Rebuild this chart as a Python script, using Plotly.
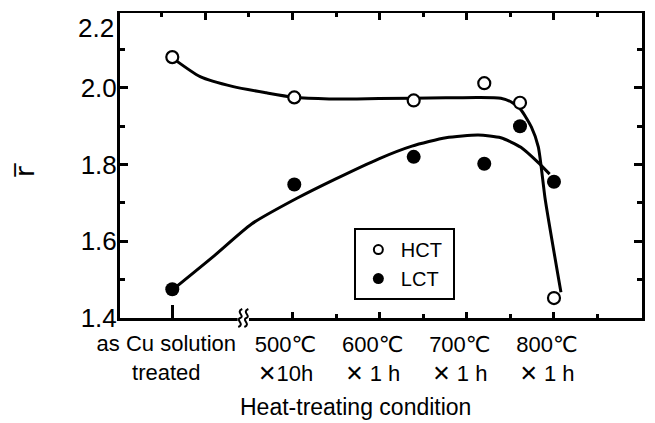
import plotly.graph_objects as go

# ---- data ----
# x positions on a temperature-like scale (°C); "as Cu solution treated" placed left of the break
cond_x = [362, 502, 639, 720, 761, 800]
hct_r = [2.08, 1.975, 1.967, 2.012, 1.961, 1.452]
lct_r = [1.475, 1.748, 1.820, 1.802, 1.900, 1.755]

# hand-drawn trend curves (knots)
hct_curve_x = [362, 394, 432, 470, 500, 542, 599, 676, 713, 739, 751, 762, 774, 782, 790, 808]
hct_curve_y = [2.078, 2.029, 2.003, 1.987, 1.976, 1.971, 1.972, 1.974, 1.975, 1.973, 1.963, 1.943, 1.898, 1.846, 1.708, 1.467]
lct_curve_x = [362, 410, 453, 505, 549, 599, 637, 676, 713, 739, 762, 782, 795]
lct_curve_y = [1.473, 1.562, 1.645, 1.712, 1.762, 1.815, 1.848, 1.870, 1.877, 1.870, 1.845, 1.805, 1.775]

asis_tick = [362]
asis_label = ["as Cu solution<br>treated"]
temp_ticks = [500, 600, 700, 800]
temp_labels = ["500℃<br>✕10h", "600℃<br>✕ 1 h", "700℃<br>✕ 1 h", "800℃<br>✕ 1 h"]
temp_minor = [550, 650, 750, 850]
top_major = [400, 500, 600, 700, 800]
top_minor = [350, 450, 550, 650, 750, 850]
y_ticks = [1.4, 1.6, 1.8, 2.0]
y_labels = ["1.4", "1.6", "1.8", "2.0"]
y_minor = [1.5, 1.7, 1.9, 2.1]
break_x = [440, 447]

XR = [302, 901]
YR = [1.4, 2.195]
FONT = "Liberation Sans, Arial, DejaVu Sans"

fig = go.Figure()
fig.add_trace(go.Scatter(x=hct_curve_x, y=hct_curve_y, mode="lines", line=dict(color="black", width=3, shape="spline", smoothing=0.6), showlegend=False, hoverinfo="skip"))
fig.add_trace(go.Scatter(x=lct_curve_x, y=lct_curve_y, mode="lines", line=dict(color="black", width=3, shape="spline", smoothing=0.6), showlegend=False, hoverinfo="skip"))
fig.add_trace(go.Scatter(x=cond_x, y=hct_r, mode="markers", name="HCT", showlegend=False,
                         marker=dict(symbol="circle", size=12, color="white", line=dict(color="black", width=2.2))))
fig.add_trace(go.Scatter(x=cond_x, y=lct_r, mode="markers", name="LCT", showlegend=False,
                         marker=dict(symbol="circle", size=14, color="black", line=dict(color="black", width=0))))
# legend entries
fig.add_trace(go.Scatter(x=[None], y=[None], mode="markers", name="HCT ", xaxis="x2",
                         marker=dict(symbol="circle", size=9, color="white", line=dict(color="black", width=2))))
fig.add_trace(go.Scatter(x=[None], y=[None], mode="markers", name="LCT ", xaxis="x3",
                         marker=dict(symbol="circle", size=11, color="black")))

fig.update_layout(
    width=655, height=423,
    margin=dict(l=120, r=10, t=13, b=105),
    paper_bgcolor="white", plot_bgcolor="white",
    font=dict(family=FONT, color="black", size=22),
    xaxis=dict(range=XR, tickmode="array", tickvals=asis_tick, ticktext=asis_label,
               ticks="inside", ticklen=13, tickwidth=3, tickcolor="black",
               showline=True, linewidth=2.5, linecolor="black", mirror=False,
               showgrid=False, zeroline=False, ticklabelshift=-6, ticklabelstandoff=4,
               tickfont=dict(size=22)),
    xaxis2=dict(range=XR, overlaying="x", anchor="y", side="bottom", tickmode="array",
                tickvals=temp_ticks, ticktext=temp_labels, ticks="inside", ticklen=6, tickwidth=2.5,
                tickcolor="black", showline=False, showgrid=False, zeroline=False,
                ticklabelshift=-7, ticklabelstandoff=11, tickfont=dict(size=22),
                minor=dict(tickmode="array", tickvals=temp_minor, ticks="inside", ticklen=4, tickwidth=2.5, tickcolor="black")),
    xaxis3=dict(range=XR, overlaying="x", anchor="y", side="top", tickmode="array",
                tickvals=top_major, ticks="inside", ticklen=7, tickwidth=2.5, tickcolor="black",
                showticklabels=False, showline=True, linewidth=2.2, linecolor="black",
                showgrid=False, zeroline=False,
                minor=dict(tickmode="array", tickvals=top_minor, ticks="inside", ticklen=4, tickwidth=2.5, tickcolor="black")),
    yaxis=dict(range=YR, tickmode="array", tickvals=y_ticks, ticktext=y_labels,
               ticks="inside", ticklen=8, tickwidth=2.5, tickcolor="black",
               showline=True, linewidth=3, linecolor="black", mirror="ticks",
               showgrid=False, zeroline=False, tickfont=dict(size=26), ticklabelstandoff=-5,
               minor=dict(tickmode="array", tickvals=y_minor, ticks="inside", ticklen=5, tickwidth=2.5, tickcolor="black")),
    legend=dict(x=0.448, y=0.295, xanchor="left", yanchor="top", bordercolor="black", borderwidth=2,
                bgcolor="white", font=dict(size=20, family=FONT), itemwidth=35, tracegroupgap=0),
    showlegend=True,
)

# axis break on the bottom axis
fig.add_shape(type="rect", xref="x", yref="paper", x0=break_x[0] - 3, x1=break_x[1] + 3,
              ysizemode="pixel", yanchor=0, y0=-4, y1=4, fillcolor="white", line=dict(width=0), layer="above")
for bx in break_x:
    fig.add_shape(type="path", xref="x", yref="paper", xsizemode="pixel", xanchor=bx,
                  ysizemode="pixel", yanchor=0,
                  path="M -2,-9 C 5,-6 -5,-2 0,0 C 5,2 -5,6 2,9",
                  line=dict(color="black", width=2), layer="above")

# titles and top y label
fig.add_annotation(text="Heat-treating condition", xref="paper", yref="paper", x=0.451, y=-0.293,
                   xanchor="center", yanchor="middle", showarrow=False, font=dict(size=23, family=FONT))
fig.add_annotation(text="r\u0305", xref="paper", yref="paper", x=-0.181, y=0.485, textangle=-90,
                   xanchor="center", yanchor="middle", showarrow=False, font=dict(size=26, family="DejaVu Sans"))
fig.add_annotation(text="2.2", xref="paper", yref="paper", x=-0.008, y=0.951,
                   xanchor="right", yanchor="middle", showarrow=False, font=dict(size=26, family=FONT))

fig.write_html("out.html")
